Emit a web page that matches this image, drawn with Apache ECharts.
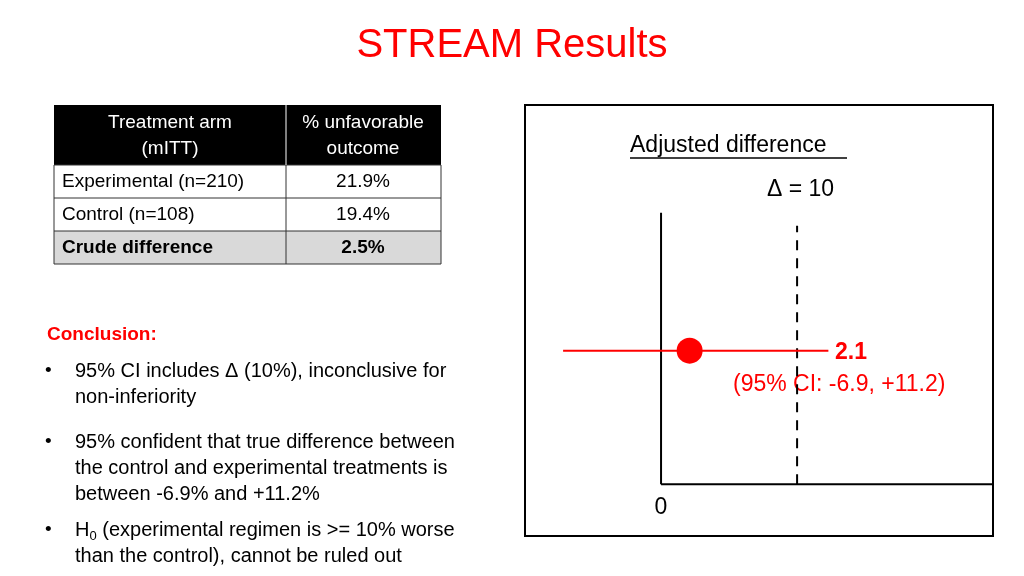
<!DOCTYPE html><html><head><meta charset="utf-8"><script src="https://cdn.jsdelivr.net/npm/echarts@6/dist/echarts.min.js"></script>
<style>body{margin:0}#c{width:1024px;height:576px}</style></head><body><div id="c"></div><script>
const estimate=[2.1];const ciLow=-6.9, ciHigh=11.2; const delta=10;
const tableHeader=['Treatment arm\n(mITT)','% unfavorable\noutcome'];
const tableRows=[['Experimental (n=210)','21.9%'],['Control (n=108)','19.4%'],['Crude difference','2.5%']];
const F="'Liberation Sans', Arial, sans-serif";
const c=echarts.init(document.getElementById('c'));
const g=[];
g.push({type:'text',left:'center',top:26,style:{text:'STREAM Results',fill:'#ff0000',font:'40px '+F}});
g.push({type:'rect',shape:{x:54,y:105,width:387,height:60},style:{fill:'#000'}});
g.push({type:'rect',shape:{x:54,y:231,width:387,height:33},style:{fill:'#d9d9d9'}});
const rowsY=[165,198,231,264];
rowsY.forEach(y=>g.push({type:'line',shape:{x1:54,y1:y,x2:441,y2:y},style:{stroke:'#333',lineWidth:1}}));
[54,286,441].forEach(x=>g.push({type:'line',shape:{x1:x,y1:165,x2:x,y2:264},style:{stroke:'#333',lineWidth:1}}));
g.push({type:'line',shape:{x1:286,y1:105,x2:286,y2:165},style:{stroke:'#fff',lineWidth:1}});
g.push({type:'text',x:170,y:136,style:{text:tableHeader[0],fill:'#fff',font:'19px '+F,align:'center',verticalAlign:'middle',lineHeight:26}});
g.push({type:'text',x:363,y:136,style:{text:tableHeader[1],fill:'#fff',font:'19px '+F,align:'center',verticalAlign:'middle',lineHeight:26}});
tableRows.forEach((r,i)=>{const y=rowsY[i]+17;const b=i==2?'bold ':'';
g.push({type:'text',x:62,y:y,style:{text:r[0],fill:'#000',font:b+'19px '+F,verticalAlign:'middle'}});
g.push({type:'text',x:363,y:y,style:{text:r[1],fill:'#000',font:b+'19px '+F,align:'center',verticalAlign:'middle'}});});
g.push({type:'text',x:47,y:335,style:{text:'Conclusion:',fill:'#ff0000',font:'bold 19px '+F,verticalAlign:'middle'}});
const bullets=[[371,'95% CI includes Δ (10%), inconclusive for\nnon-inferiority'],[442,'95% confident that true difference between\nthe control and experimental treatments is\nbetween -6.9% and +11.2%']];
bullets.forEach(b=>{g.push({type:'text',x:45,y:b[0],style:{text:'•',fill:'#000',font:'19px '+F,verticalAlign:'middle'}});
g.push({type:'text',x:75,y:b[0]-13,style:{text:b[1],fill:'#000',font:'20px '+F,lineHeight:26}});});
g.push({type:'text',x:45,y:530,style:{text:'•',fill:'#000',font:'19px '+F,verticalAlign:'middle'}});
g.push({type:'text',x:75,y:517,style:{text:'H{s|0} (experimental regimen is >= 10% worse\nthan the control), cannot be ruled out',fill:'#000',font:'20px '+F,lineHeight:26,rich:{s:{fontSize:13,fontFamily:F,verticalAlign:'bottom',padding:[10,0,0,0]}}}});
g.push({type:'rect',shape:{x:525,y:105,width:468,height:431},style:{fill:'none',stroke:'#000',lineWidth:2}});
g.push({type:'text',x:630,y:146,style:{text:'Adjusted difference',fill:'#000',font:'23px '+F,verticalAlign:'middle'}});
g.push({type:'line',shape:{x1:630,y1:158,x2:847,y2:158},style:{stroke:'#000',lineWidth:1.5}});
g.push({type:'text',x:767,y:190,style:{text:'Δ = 10',fill:'#000',font:'23px '+F,verticalAlign:'middle'}});
g.push({type:'text',x:835,y:353,style:{text:'2.1',fill:'#ff0000',font:'bold 23px '+F,verticalAlign:'middle'}});
g.push({type:'text',x:733,y:385,style:{text:'(95% CI: -6.9, +11.2)',fill:'#ff0000',font:'23px '+F,verticalAlign:'middle'}});
g.push({type:'text',x:661,y:508,style:{text:'0',fill:'#000',font:'23px '+F,align:'center',verticalAlign:'middle'}});
c.setOption({animation:false,graphic:g,
grid:{left:525,right:31,top:105,bottom:40},
xAxis:{type:'value',min:-10,max:24.4,show:false},
yAxis:{type:'value',min:0,max:1,show:false},
series:[
{type:'line',data:[[0,0.12],[0,0.75]],symbol:'none',lineStyle:{color:'#000',width:2}},
{type:'line',data:[[0,0.12],[24.4,0.12]],symbol:'none',lineStyle:{color:'#000',width:2}},
{type:'line',data:[[delta,0.12],[delta,0.72]],symbol:'none',lineStyle:{color:'#000',width:2,type:[10,8]}},
{type:'line',data:[[ciLow-0.3,0.43],[ciHigh+1.1,0.43]],symbol:'none',lineStyle:{color:'#ff0000',width:2}},
{type:'scatter',data:[[estimate[0],0.43]],symbolSize:26,itemStyle:{color:'#ff0000',opacity:1}}
]});
</script></body></html>
